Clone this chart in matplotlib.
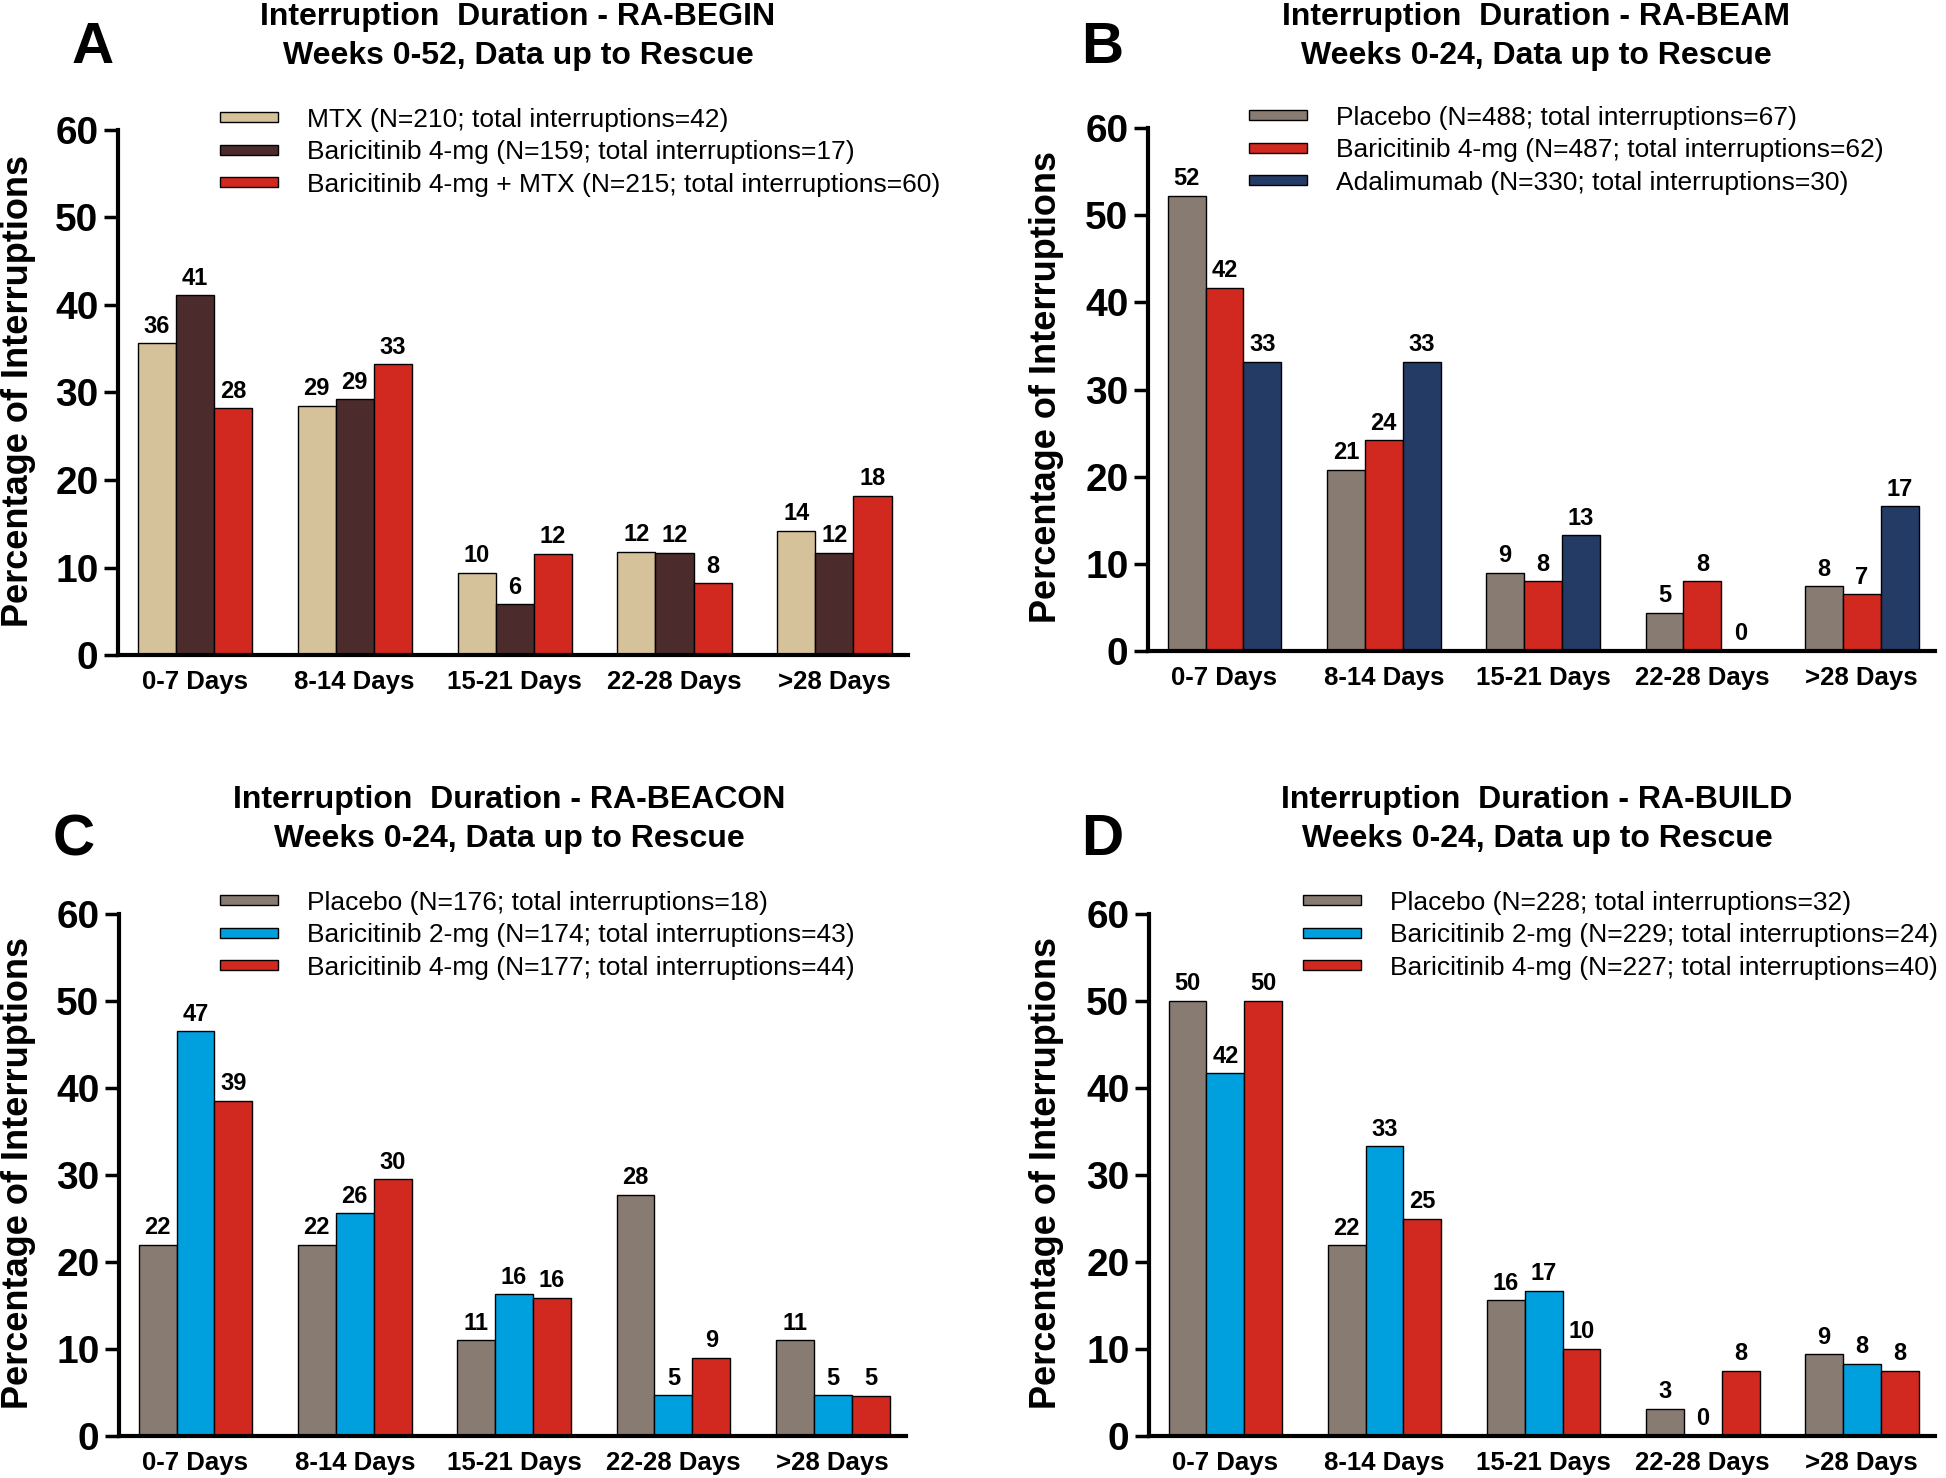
import matplotlib
matplotlib.use('Agg')
import matplotlib.pyplot as plt
from matplotlib.patches import Rectangle
import numpy as np

plt.rcParams['font.family'] = ['Liberation Sans', 'DejaVu Sans']

W, H = 1946, 1478

CATEGORIES = ['0-7 Days', '8-14 Days', '15-21 Days', '22-28 Days', '>28 Days']

# panel A - RA-BEGIN
A_SERIES = ['MTX (N=210; total interruptions=42)',
            'Baricitinib 4-mg (N=159; total interruptions=17)',
            'Baricitinib 4-mg + MTX (N=215; total interruptions=60)']
A_VALUES = [[35.6, 28.5, 9.4, 11.8, 14.2],
            [41.1, 29.2, 5.8, 11.7, 11.7],
            [28.2, 33.2, 11.6, 8.2, 18.2]]
A_LABELS = [[36, 29, 10, 12, 14],
            [41, 29, 6, 12, 12],
            [28, 33, 12, 8, 18]]

# panel B - RA-BEAM
B_SERIES = ['Placebo (N=488; total interruptions=67)',
            'Baricitinib 4-mg (N=487; total interruptions=62)',
            'Adalimumab (N=330; total interruptions=30)']
B_VALUES = [[52.2, 20.8, 9.0, 4.4, 7.4],
            [41.7, 24.2, 8.0, 8.0, 6.5],
            [33.2, 33.2, 13.3, 0.0, 16.6]]
B_LABELS = [[52, 21, 9, 5, 8],
            [42, 24, 8, 8, 7],
            [33, 33, 13, 0, 17]]

# panel C - RA-BEACON
C_SERIES = ['Placebo (N=176; total interruptions=18)',
            'Baricitinib 2-mg (N=174; total interruptions=43)',
            'Baricitinib 4-mg (N=177; total interruptions=44)']
C_VALUES = [[22.0, 22.0, 11.0, 27.7, 11.0],
            [46.5, 25.6, 16.3, 4.7, 4.7],
            [38.5, 29.5, 15.9, 9.0, 4.6]]
C_LABELS = [[22, 22, 11, 28, 11],
            [47, 26, 16, 5, 5],
            [39, 30, 16, 9, 5]]

# panel D - RA-BUILD
D_SERIES = ['Placebo (N=228; total interruptions=32)',
            'Baricitinib 2-mg (N=229; total interruptions=24)',
            'Baricitinib 4-mg (N=227; total interruptions=40)']
D_VALUES = [[50.0, 21.9, 15.6, 3.1, 9.4],
            [41.7, 33.3, 16.7, 0.0, 8.3],
            [50.0, 25.0, 10.0, 7.5, 7.5]]
D_LABELS = [[50, 22, 16, 3, 9],
            [42, 33, 17, 0, 8],
            [50, 25, 10, 8, 8]]

TAN, BROWN, RED = '#D5C29A', '#4B2B2B', '#D1281F'
GRAY, NAVY, BLUE = '#877B72', '#243B66', '#00A0DE'

PANELS = [
    dict(letter='A', study='RA-BEGIN', weeks='0-52', series=A_SERIES, values=A_VALUES, labels=A_LABELS,
         colors=[TAN, BROWN, RED], box=(118, 908, 655, 130), title_x=518, title_y=(17, 56),
         letter_xy=(93, 48), leg_xy=(220, 108), ylab_xy=(19, 391)),
    dict(letter='B', study='RA-BEAM', weeks='0-24', series=B_SERIES, values=B_VALUES, labels=B_LABELS,
         colors=[GRAY, RED, NAVY], box=(1148, 1935, 651, 128), title_x=1536, title_y=(17, 56),
         letter_xy=(1102, 48), leg_xy=(1249, 106), ylab_xy=(1046, 387)),
    dict(letter='C', study='RA-BEACON', weeks='0-24', series=C_SERIES, values=C_VALUES, labels=C_LABELS,
         colors=[GRAY, BLUE, RED], box=(119, 906, 1436, 914), title_x=509, title_y=(800, 839),
         letter_xy=(74, 840), leg_xy=(220, 891), ylab_xy=(19, 1173)),
    dict(letter='D', study='RA-BUILD', weeks='0-24', series=D_SERIES, values=D_VALUES, labels=D_LABELS,
         colors=[GRAY, BLUE, RED], box=(1149, 1935, 1436, 914), title_x=1537, title_y=(800, 839),
         letter_xy=(1102, 840), leg_xy=(1303, 891), ylab_xy=(1046, 1173)),
]

fig = plt.figure(figsize=(W / 100, H / 100), dpi=100)

x = np.arange(len(CATEGORIES))
bar_w = 0.238

for p in PANELS:
    left, right, y0, y60 = p['box']
    ax = fig.add_axes([left / W, 1 - y0 / H, (right - left) / W, (y0 - y60) / H])

    handles = []
    for i, (vals, labs, col, name) in enumerate(zip(p['values'], p['labels'], p['colors'], p['series'])):
        pos = x + (i - 1) * bar_w
        ax.bar(pos, vals, width=bar_w, color=col, edgecolor='black', linewidth=1.0, zorder=2)
        for xp, v, lab in zip(pos, vals, labs):
            ax.annotate(str(lab), (xp, v), xytext=(0, 4), textcoords='offset points',
                        ha='center', va='bottom', fontsize=17, fontweight='bold')
        handles.append(Rectangle((0, 0), 1, 1, facecolor=col, edgecolor='black', linewidth=1.0, label=name))

    ax.set_xlim(-0.48, 4.46)
    ax.set_ylim(0, 60)
    ax.set_yticks(range(0, 61, 10))
    ax.set_xticks(x)
    ax.set_xticklabels(CATEGORIES, fontsize=18.5, fontweight='bold')
    for t in ax.get_yticklabels():
        t.set_fontsize(28)
        t.set_fontweight('bold')
    ax.tick_params(axis='y', length=10, width=2.5, pad=4)
    ax.tick_params(axis='x', length=0, pad=11)
    for s in ['top', 'right']:
        ax.spines[s].set_visible(False)
    for s in ['left', 'bottom']:
        ax.spines[s].set_linewidth(3)

    lx, ly = p['leg_xy']
    ax.legend(handles=handles, loc='upper left', bbox_to_anchor=(lx / W, 1 - ly / H),
              bbox_transform=fig.transFigure, frameon=False, fontsize=19,
              handlelength=2.2, handleheight=0.2, handletextpad=1.1,
              labelspacing=0.32, borderpad=0, borderaxespad=0)

    tx = p['title_x']
    fig.text(tx / W, 1 - p['title_y'][0] / H, 'Interruption  Duration - ' + p['study'],
             ha='center', va='center', fontsize=23, fontweight='bold')
    fig.text(tx / W, 1 - p['title_y'][1] / H, 'Weeks ' + p['weeks'] + ', Data up to Rescue',
             ha='center', va='center', fontsize=23, fontweight='bold')
    fig.text(p['letter_xy'][0] / W, 1 - p['letter_xy'][1] / H, p['letter'],
             ha='center', va='center', fontsize=42, fontweight='bold')
    fig.text(p['ylab_xy'][0] / W, 1 - p['ylab_xy'][1] / H, 'Percentage of Interruptions',
             ha='center', va='center', rotation=90, fontsize=26, fontweight='bold')

fig.savefig('out.png', dpi=100)
